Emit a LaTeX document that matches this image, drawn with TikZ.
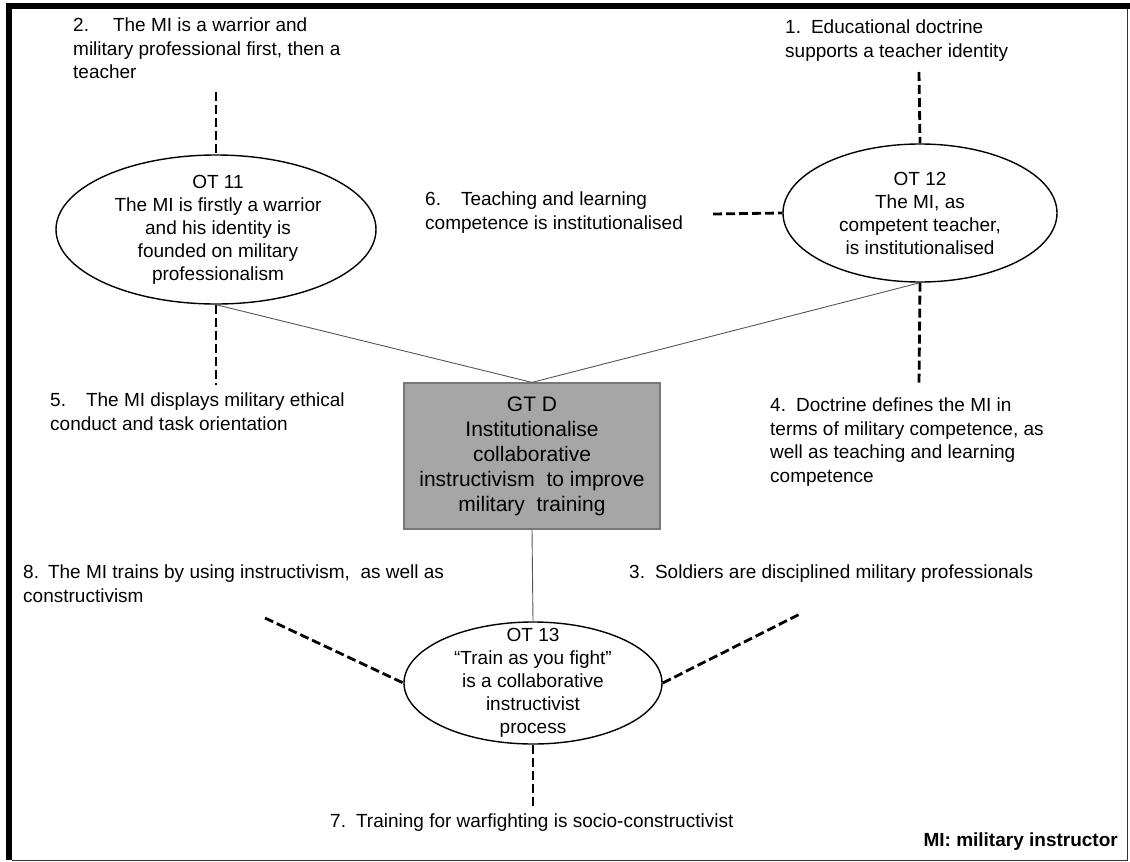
\documentclass[tikz,border=0pt]{standalone}
\usepackage{fontspec}
\setmainfont{Liberation Sans}
\usetikzlibrary{shapes.geometric}
\definecolor{boxfill}{RGB}{166,166,166}
\definecolor{boxline}{RGB}{120,120,120}
\definecolor{linkgray}{RGB}{85,85,85}

\begin{document}
\begin{tikzpicture}[x=1pt,y=-1pt,
  oval/.style={draw=black, line width=1.4pt, ellipse, inner sep=0pt},
  ovaltext/.style={align=center, font=\fontsize{19}{23}\selectfont, inner sep=0pt},
  note/.style={align=left, anchor=north west, font=\fontsize{19}{23.5}\selectfont, inner sep=0pt},
  tie/.style={draw=black, line width=2.8pt, dash pattern=on 9pt off 4pt},
  link/.style={draw=linkgray, line width=0.9pt},
  goal/.style={draw=boxline, line width=1.2pt, fill=boxfill, minimum width=256pt,
    minimum height=146pt, align=center, font=\fontsize{21}{25}\selectfont, inner sep=0pt}
]
\useasboundingbox (0,0) rectangle (1130,862);

% frame
\fill[black] (6,3) rectangle (1130,9);
\fill[black] (6,3) rectangle (12,860);
\draw[black!80, line width=1pt] (12,860) -- (1127.5,860) -- (1127.5,9);

% central goal
\node[goal] (gtd) at (532,456) {GT D\\Institutionalise\\collaborative\\instructivism\ \ to improve\\military\ \ training};

% theme ellipses
\node[oval, minimum width=320pt, minimum height=149pt] (ot11) at (216,229.5) {};
\node[ovaltext] (ot11t) at (218,229.5) {OT 11\\The MI is firstly a warrior\\and his identity is\\founded on military\\professionalism};

\node[oval, minimum width=274pt, minimum height=138pt] (ot12) at (920,213) {};
\node[ovaltext] (ot12t) at (ot12.center) {OT 12\\The MI, as\\competent teacher,\\is institutionalised};

\node[oval, minimum width=258pt, minimum height=122pt] (ot13) at (533,683) {};
\node[ovaltext] (ot13t) at (ot13.center) {OT 13\\“Train as you fight”\\is a collaborative\\instructivist\\process};

% links to the goal
\draw[link] (ot11.south) -- (gtd.north);
\draw[link] (ot12.south) -- (gtd.north);
\draw[link] (gtd.south) -- (ot13.north);

% free ends of the dashed ties
\coordinate (t2) at (216,92);
\coordinate (t5) at (216,385);
\coordinate (t1) at (919,72);
\coordinate (t6) at (713,214);
\coordinate (t4) at (919,385);
\coordinate (t8) at (265,618);
\coordinate (t3) at (800,614);
\coordinate (t7) at (533,807);

\draw[tie] (t2) -- (ot11.north);
\draw[tie] (ot11.south) -- (t5);
\draw[tie] (t1) -- (ot12.north);
\draw[tie] (t6) -- (ot12.west);
\draw[tie] (ot12.south) -- (t4);
\draw[tie] (t8) -- (ot13.west);
\draw[tie] (ot13.east) -- (t3);
\draw[tie] (ot13.south) -- (t7);

% statements
\node[note] (n2) at (73,18) {2.\hspace{24pt}The MI is a warrior and\\military professional first, then a\\teacher};
\node[note] (n1) at (785,20) {1.\hspace{10pt}Educational doctrine\\supports a teacher identity};
\node[note] (n6) at (425,192) {6.\hspace{20pt}Teaching and learning\\competence is institutionalised};
\node[note] (n5) at (50,393) {5.\hspace{20pt}The MI displays military ethical\\conduct and task orientation};
\node[note] (n4) at (770,398) {4.\hspace{10pt}Doctrine defines the MI in\\terms of military competence, as\\well as teaching and learning\\competence};
\node[note] (n8) at (23,565) {8.\hspace{9pt}The MI trains by using instructivism,\ \ as well as\\constructivism};
\node[note] (n3) at (629,565) {3.\hspace{10pt}Soldiers are disciplined military professionals};
\node[note] (n7) at (330,814) {7.\hspace{10pt}Training for warfighting is socio-constructivist};
\node[anchor=base east, inner sep=0pt, font=\fontsize{19}{23}\selectfont\bfseries] (key) at (1118,846) {MI: military instructor};
\end{tikzpicture}
\end{document}
